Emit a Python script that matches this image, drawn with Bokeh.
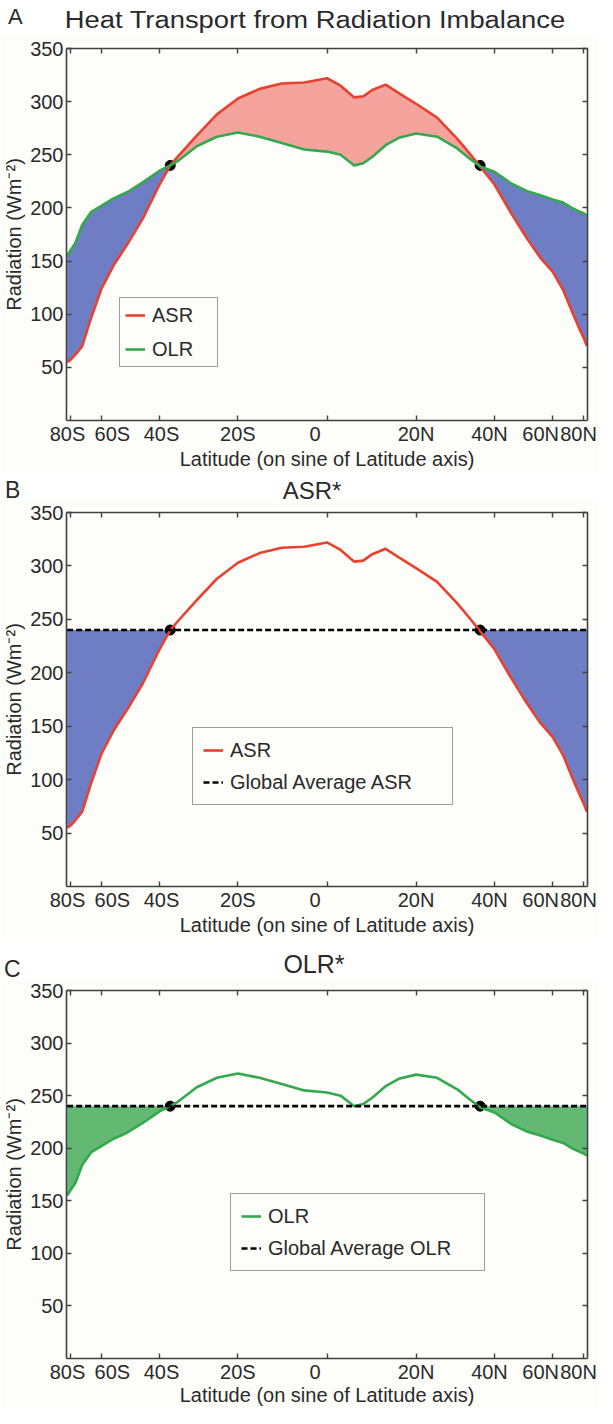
import numpy as np
from bokeh.plotting import figure
from bokeh.models import (Range1d, LinearAxis, FixedTicker, Legend,
                          LegendItem, ColumnDataSource, Div)
from bokeh.layouts import column
from bokeh.embed import file_html
from bokeh.resources import INLINE

# ---------------- data ----------------
lat = [-86, -80, -75, -70, -65, -60, -55, -50, -45, -40, -37, -35, -30, -25, -20,
       -15, -10, -5, 0, 3, 6, 8, 10, 13, 16, 20, 25, 30, 33, 36, 40, 45, 50, 55,
       60, 65, 70, 75, 80, 86]
asr = [55, 57, 62, 70, 96, 124, 146, 166, 190, 222, 240, 248, 268, 288, 303,
       312, 317, 318, 322, 315, 304, 305, 311, 316, 308, 298, 285, 265, 252, 239,
       222, 195, 172, 153, 140, 123, 103, 88, 78, 70]
olr = [155, 160, 167, 184, 196, 202, 209, 215, 224, 235, 240, 244, 258, 267, 271,
       267, 261, 255, 253, 250, 240, 242, 248, 259, 266, 270, 267, 256, 247, 239,
       234, 223, 216, 212, 208, 205, 200, 197, 195, 193]
global_avg_asr = 240
global_avg_olr = 240
cross_lat = [-37, 36]
cross_val = [240, 240]

xtick_lat = [-80, -60, -40, -20, 0, 20, 40, 60, 80]
xtick_labels = ["80S", "60S", "40S", "20S", "0", "20N", "40N", "60N", "80N"]
ytick_vals = [50, 100, 150, 200, 250, 300, 350]

# ---------------- styling ----------------
FONT = "Liberation Sans"
BG = "#fdfdfa"
AX = "#404040"
TXT = "#2a2a2a"
RED = "#e8412f"
GREEN = "#33a84e"
BLUE_FILL = "#6f7ec4"
RED_FILL = "#f4a49c"
GREEN_FILL = "#63b971"

FW = 525  # frame width
# pixel nudges of the x tick labels (as in the original layout)
label_nudge_px = [-3, 11, 2, 0, -12, 0, -5, -12, -5]

xs = np.sin(np.radians(np.array(lat, dtype=float)))
xt = np.sin(np.radians(np.array(xtick_lat, dtype=float)))
xl = xt + np.array(label_nudge_px) * 2.0 / FW
cx = np.sin(np.radians(np.array(cross_lat, dtype=float)))

a = np.array(asr, dtype=float)
o = np.array(olr, dtype=float)
src = ColumnDataSource(dict(
    x=xs, asr=a, olr=o,
    red_top=np.maximum(a, o), blue_top=np.maximum(a, o),
    avg_a=np.full_like(a, global_avg_asr), avg_o=np.full_like(a, global_avg_olr),
    asr_blue_top=np.maximum(a, global_avg_asr),
    olr_green_top=np.maximum(o, global_avg_olr),
))


def style_axis(ax):
    ax.axis_line_color = AX
    ax.axis_line_width = 1.6
    ax.major_tick_line_color = AX
    ax.major_tick_line_width = 1.4
    ax.major_tick_in = 5
    ax.major_tick_out = 0
    ax.minor_tick_line_color = None
    ax.major_label_text_font = FONT
    ax.major_label_text_font_size = "20px"
    ax.major_label_text_color = TXT
    ax.axis_label_text_font = FONT
    ax.axis_label_text_font_size = "20px"
    ax.axis_label_text_font_style = "normal"
    ax.axis_label_text_color = TXT


def hide_labels(ax):
    ax.major_label_text_font_size = "1px"
    ax.major_label_text_color = None
    ax.major_label_standoff = 0


def header(height, letter, letter_fs, letter_left, letter_top,
           title, title_fs, title_cx, title_top, stretch=1.0):
    html = (
        f'<div style="position:relative;width:597px;height:{height}px;'
        f"font-family:'Liberation Sans',Arial,sans-serif;color:{TXT};\">"
        f'<span style="position:absolute;left:{letter_left}px;top:{letter_top}px;'
        f'font-size:{letter_fs}px;line-height:1;">{letter}</span>'
        f'<span style="position:absolute;left:{title_cx - 300}px;width:600px;'
        f'top:{title_top}px;font-size:{title_fs}px;line-height:1;'
        f'text-align:center;white-space:nowrap;transform:scaleX({stretch});'
        f'transform-origin:50% 50%;">{title}</span></div>'
    )
    return Div(text=html, width=597, height=height, margin=0)


def make_fig(height, frame_bottom_border, xlabel_standoff=0):
    p = figure(width=597, height=height, x_range=Range1d(-1, 1),
               y_range=Range1d(0, 350), output_backend="svg",
               toolbar_location=None, x_axis_type=None, y_axis_type=None,
               min_border_left=62, min_border_right=10,
               min_border_top=12, min_border_bottom=frame_bottom_border)
    p.background_fill_color = BG
    p.border_fill_color = BG
    p.outline_line_color = None

    yl = LinearAxis(ticker=FixedTicker(ticks=ytick_vals),
                    axis_label="Radiation (Wm\u207b\u00b2)")
    style_axis(yl)
    yl.major_label_standoff = 3
    yl.axis_label_standoff = 2
    p.add_layout(yl, "left")

    yr = LinearAxis(ticker=FixedTicker(ticks=ytick_vals))
    style_axis(yr)
    hide_labels(yr)
    p.add_layout(yr, "right")

    xtp = LinearAxis(ticker=FixedTicker(ticks=list(xt)))
    style_axis(xtp)
    hide_labels(xtp)
    p.add_layout(xtp, "above")

    xb = LinearAxis(ticker=FixedTicker(ticks=list(xt)))
    style_axis(xb)
    hide_labels(xb)
    p.add_layout(xb, "below")

    xb2 = LinearAxis(ticker=FixedTicker(ticks=list(xl)),
                     axis_label="Latitude (on sine of Latitude axis)")
    style_axis(xb2)
    xb2.axis_line_color = None
    xb2.major_tick_line_color = None
    xb2.major_label_overrides = {float(v): t for v, t in zip(xl, xtick_labels)}
    xb2.major_label_standoff = 2
    xb2.axis_label_standoff = xlabel_standoff
    p.add_layout(xb2, "below")
    return p


def style_legend(lg, pad, label_w):
    lg.border_line_color = AX
    lg.border_line_width = 1.3
    lg.background_fill_color = BG
    lg.background_fill_alpha = 1
    lg.label_text_font = FONT
    lg.label_text_font_size = "20px"
    lg.label_text_color = TXT
    lg.glyph_width = 20
    lg.label_standoff = 7
    lg.padding = pad
    lg.spacing = 10 if pad < 8 else 8
    lg.label_height = 24
    lg.glyph_height = 24
    lg.label_width = label_w
    lg.margin = 0


# ---------------- panel A ----------------
hA = header(36, "A", 22, 8, 6, "Heat Transport from Radiation Imbalance", 23, 315, 9,
            stretch=1.19)
pA = make_fig(436, 51)
pA.varea(x="x", y1="olr", y2="red_top", source=src, fill_color=RED_FILL)
pA.varea(x="x", y1="asr", y2="blue_top", source=src, fill_color=BLUE_FILL)
pA.scatter(x=cx, y=cross_val, size=10, color="black")
la = pA.line(x="x", y="asr", source=src, line_color=RED, line_width=2.6)
lo = pA.line(x="x", y="olr", source=src, line_color=GREEN, line_width=2.6)
legA = Legend(items=[LegendItem(label="ASR", renderers=[la]),
                     LegendItem(label="OLR", renderers=[lo])],
              location=(53, 53))
style_legend(legA, 5, 60)
pA.add_layout(legA)

# ---------------- panel B ----------------
hB = header(28, "B", 23, 5, 7, "ASR*", 24, 312, 7)
pB = make_fig(438, 52)
pB.varea(x="x", y1="asr", y2="asr_blue_top", source=src, fill_color=BLUE_FILL)
pB.scatter(x=cx, y=cross_val, size=10, color="black")
lb1 = pB.line(x="x", y="asr", source=src, line_color=RED, line_width=2.6)
lb2 = pB.line(x="x", y="avg_a", source=src, line_color="black", line_width=2.6,
              line_dash="6 3")
legB = Legend(items=[LegendItem(label="ASR", renderers=[lb1]),
                     LegendItem(label="Global Average ASR", renderers=[lb2])],
              location=(126, 81))
style_legend(legB, 10, 212)
pB.add_layout(legB)

# ---------------- panel C ----------------
hC = header(40, "C", 23, 4, 20, "OLR*", 25, 314, 14)
pC = make_fig(430, 46, xlabel_standoff=-2)
pC.varea(x="x", y1="olr", y2="olr_green_top", source=src, fill_color=GREEN_FILL)
pC.scatter(x=cx, y=cross_val, size=10, color="black")
lc1 = pC.line(x="x", y="olr", source=src, line_color=GREEN, line_width=2.6)
lc2 = pC.line(x="x", y="avg_o", source=src, line_color="black", line_width=2.6,
              line_dash="6 3")
legC = Legend(items=[LegendItem(label="OLR", renderers=[lc1]),
                     LegendItem(label="Global Average OLR", renderers=[lc2])],
              location=(164, 87))
style_legend(legC, 10, 206)
pC.add_layout(legC)

layout = column(hA, pA, hB, pB, hC, pC, spacing=0)
open("out.html", "w").write(file_html(layout, INLINE))
